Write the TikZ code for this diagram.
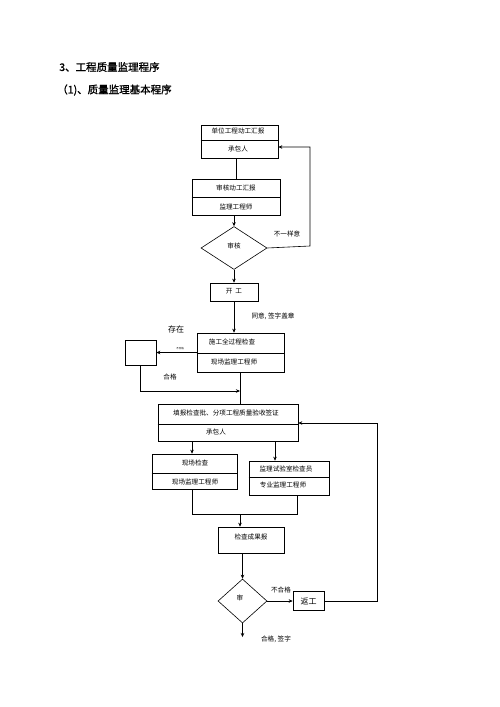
\documentclass[tikz,border=0pt]{standalone}
\usepackage{fontspec}
\setmainfont{Noto Sans CJK SC}[AutoFakeBold=1.5]
\usetikzlibrary{arrows.meta,shapes.geometric}
\begin{document}
\begin{tikzpicture}[x=1pt,y=-1pt,line width=0.6pt,
  >={Stealth[length=4pt,width=3.5pt]},
  box/.style={draw,rectangle,inner sep=0pt},
  dia/.style={draw,diamond,inner sep=0pt},
  lbl/.style={font=\fontsize{6.6}{7}\selectfont,inner sep=0pt},
  big/.style={font=\fontsize{8}{9}\selectfont,inner sep=0pt},
  ttl/.style={font=\fontsize{10.5}{12}\selectfont\bfseries,inner sep=0pt,anchor=west}]
\useasboundingbox (0,0) rectangle (500,707);

% titles
\node[ttl] (t1) at (59,67) {3、工程质量监理程序};
\node[ttl] (t2) at (57,90) {（1)、质量监理基本程序};

% box 1
\node[box,minimum width=77pt,minimum height=33pt] (b1) at (239.5,141.5) {};
\draw (b1.west |- 0,140) -- (b1.east |- 0,140);
\node[lbl] (b1a) at (238,131) {单位工程动工汇报};
\node[lbl] (b1b) at (238,148.5) {承包人};

% box 2
\node[box,minimum width=88pt,minimum height=36pt] (b2) at (236,197) {};
\draw (b2.west |- 0,197) -- (b2.east |- 0,197);
\node[lbl] (b2a) at (236,187.5) {审核动工汇报};
\node[lbl] (b2b) at (236,206.5) {监理工程师};
\draw (b2.north) -- (b2.north |- b1.south);

% diamond 1
\node[dia,minimum width=66pt,minimum height=43pt] (d1) at (234,248) {};
\node[lbl] (d1t) at (234,246) {审核};
\draw[->] (b2.south -| d1.north) -- (d1.north);
\coordinate (r1) at (310,246);
\draw[->] (d1.east) -- (r1) -- (r1 |- 0,147) -- (b1.east |- 0,147);
\node[lbl] (n1) at (287,234) {不一样意};

% 开工
\node[box,minimum width=48pt,minimum height=18pt] (k) at (234,292) {};
\node[lbl] (kt) at (234,291.5) {开\ \ 工};
\draw[->] (d1.south) -- (k.north);
\node[lbl] (n2) at (273,316) {同意, 签字盖章};

% 施工全过程检查
\node[box,minimum width=87pt,minimum height=39pt] (s) at (240.5,352.5) {};
\draw (s.west |- 0,353) -- (s.east |- 0,353);
\node[lbl] (sa) at (232,342) {施工全过程检查};
\node[lbl] (sb2) at (234,362) {现场监理工程师};
\draw[->] (k.south) -- (k.south |- s.north);

% small box
\node[box,minimum width=31pt,minimum height=25pt] (sm) at (140.5,352.5) {};
\draw[->] (s.west) -- (sm.east);
\node[font=\fontsize{2.5}{3}\selectfont,inner sep=0pt] (tiny) at (180,348.5) {不合格};
\node[big] (n3) at (176,329) {存在};
\coordinate (j1) at (240,391);
\draw[->] (sm.south) |- (j1);
\node[lbl] (n4) at (170,377) {合格};

% 填报
\node[box,minimum width=140pt,minimum height=37pt] (f) at (228,422.5) {};
\draw (f.west |- 0,424) -- (f.east |- 0,424);
\node[lbl] (fa) at (226,412.5) {填报检查批、分项工程质量验收签证};
\node[lbl] (fb) at (216,432) {承包人};
\draw (s.south -| j1) -- (f.north -| j1);

% 现场检查
\node[box,minimum width=85pt,minimum height=35pt] (x) at (194.5,471.5) {};
\draw (x.west |- 0,473) -- (x.east |- 0,473);
\node[lbl] (xa) at (195,463) {现场检查};
\node[lbl] (xb) at (195,482) {现场监理工程师};
\coordinate (xl) at (192,0);
\draw[->] (f.south -| xl) -- (x.north -| xl);

% 监理试验室
\node[box,minimum width=80pt,minimum height=34pt] (y) at (289,478) {};
\draw (y.west |- 0,477) -- (y.east |- 0,477);
\node[lbl] (ya) at (286,469) {监理试验室检查员};
\node[lbl] (yb) at (283,485) {专业监理工程师};
\coordinate (yl) at (275,0);
\draw[->] (f.south -| yl) -- (y.north -| yl);

% merge
\coordinate (xr) at (297,0);
\coordinate (m) at (240,514);
\draw (x.south -| xl) -- (m -| xl) -- (m -| xr) -- (y.south -| xr);

% 检查成果报
\node[box,minimum width=66pt,minimum height=26pt] (c) at (251,540) {};
\node[lbl] (ct) at (251,537) {检查成果报};
\draw[->] (m) -- (c.north -| m);

% diamond 2
\node[dia,minimum width=49pt,minimum height=44pt] (d2) at (242.5,601) {};
\node[lbl] (d2t) at (240,598) {审};
\draw[->] (c.south -| d2.north) -- (d2.north);

% 返工
\node[box,minimum width=31pt,minimum height=19pt] (r) at (308.5,601) {};
\node[big] (rt) at (308.5,601) {返工};
\draw[->] (d2.east) -- (r.west);
\node[lbl] (n5) at (281,590) {不合格};
\coordinate (r2) at (377,601);
\draw[->] (r.east) -- (r2) -- (r2 |- 0,423) -- (f.east |- 0,423);

% bottom exit
\coordinate (e) at (242.5,637);
\draw[->] (d2.south) -- (e);
\node[lbl] (n6) at (276,639) {合格, 签字};
\end{tikzpicture}
\end{document}
